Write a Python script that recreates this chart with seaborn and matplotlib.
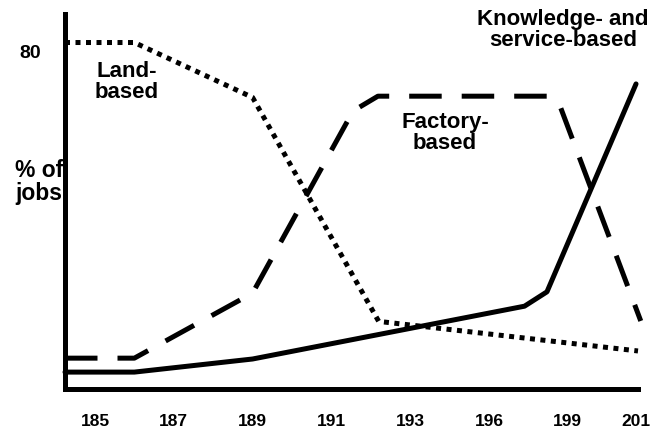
import pandas as pd
import matplotlib
matplotlib.use("Agg")
import matplotlib.pyplot as plt
import matplotlib.transforms as mtransforms
import seaborn as sns

# positions on the x axis are counted in tick steps (0 = first labelled tick)
tick_pos = [0, 1, 2, 3, 4, 5, 6, 7, 8, 9, 10, 11, 12, 13, 13.78]
tick_labels = ["185", "", "187", "", "189", "", "191", "", "193", "", "196", "", "199", "", "201"]

# Land-based jobs (dotted)
land_x = [-0.76, 1.0, 4.0, 7.2, 13.78]
land_y = [82, 82, 69, 16, 9]

# Factory-based jobs (dashed)
factory_x = [-0.76, 1.0, 4.0, 6.55, 7.18, 11.55, 11.78, 13.85]
factory_y = [7.3, 7.3, 22.7, 65.8, 69.3, 69.3, 67.5, 16.1]

# Knowledge- and service-based jobs (solid)
know_x = [-0.76, 1.0, 4.0, 10.9, 11.47, 13.73]
know_y = [4.0, 4.0, 7.1, 19.6, 23.0, 72.2]

sns.set_style("white")
plt.rcParams['font.family'] = ['Liberation Sans', 'DejaVu Sans']
plt.rcParams['text.color'] = 'black'
plt.rcParams['xtick.color'] = 'black'
plt.rcParams['ytick.color'] = 'black'

fig = plt.figure(figsize=(6.51, 4.31), dpi=100)
ax = fig.add_axes([65/651, 1 - 390/431, (638-65)/651, (390-15)/431])

lw = 3.6
df_land = pd.DataFrame({"x": land_x, "y": land_y})
df_fac = pd.DataFrame({"x": factory_x, "y": factory_y})
df_know = pd.DataFrame({"x": know_x, "y": know_y})

sns.lineplot(data=df_land, x="x", y="y", ax=ax, color="black", linewidth=lw,
             sort=False, estimator=None, clip_on=False)
ax.lines[-1].set_dashes((1, 1.1))
ax.lines[-1].set_dash_capstyle("butt")
sns.lineplot(data=df_fac, x="x", y="y", ax=ax, color="black", linewidth=lw,
             sort=False, estimator=None, clip_on=False)
ax.lines[-1].set_dashes((6.5, 4.0))
ax.lines[-1].set_dash_capstyle("butt")
sns.lineplot(data=df_know, x="x", y="y", ax=ax, color="black", linewidth=lw,
             sort=False, estimator=None, clip_on=False)

ax.set_xlim(-0.76, 13.78)
ax.set_ylim(0, 88.75)

for side in ["top", "right"]:
    ax.spines[side].set_visible(False)
for side in ["left", "bottom"]:
    ax.spines[side].set_linewidth(lw)
    ax.spines[side].set_color("black")
    ax.spines[side].set_zorder(5)

ax.set_xticks(tick_pos)
ax.set_xticklabels(tick_labels, fontsize=12.5, fontweight="bold")
ax.tick_params(axis="x", direction="inout", length=13, width=3.2, pad=11, color="black")
# nudge the last label so it stays inside the picture
last = ax.get_xticklabels()[-1]
last.set_transform(last.get_transform() +
                   mtransforms.ScaledTranslation(-2.5/100, 0, fig.dpi_scale_trans))
ax.set_yticks([80])
ax.set_yticklabels(["80"], fontsize=14, fontweight="bold")
ax.tick_params(axis="y", length=0, pad=17)
ax.set_xlabel("")
ax.set_ylabel("")

fs = 16
ax.text(0.81, 72.8, "Land-\nbased", ha="center", va="center", fontsize=fs,
        fontweight="bold", linespacing=1.0)
ax.text(8.88, 60.8, "Factory-\nbased", ha="center", va="center", fontsize=fs,
        fontweight="bold", linespacing=1.0)
ax.text(11.88, 85.3, "Knowledge- and\nservice-based", ha="center", va="center",
        fontsize=fs, fontweight="bold", linespacing=1.0, clip_on=False)
fig.text(15/651, 1 - 182/431, "% of\njobs", ha="left", va="center", fontsize=16.5,
         fontweight="bold", linespacing=1.0, zorder=0)

fig.savefig("out.png", dpi=100)
